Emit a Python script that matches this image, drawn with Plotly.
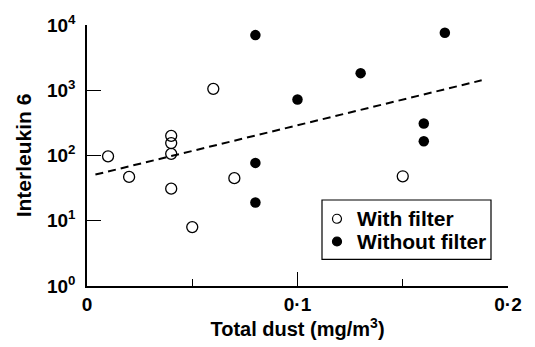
import plotly.graph_objects as go

# With filter (open circles)
with_x = [0.01, 0.02, 0.04, 0.04, 0.04, 0.04, 0.05, 0.06, 0.07, 0.15]
with_y = [97, 47, 200, 155, 106, 31, 8, 1050, 45, 48]

# Without filter (filled circles)
without_x = [0.08, 0.08, 0.08, 0.10, 0.13, 0.17, 0.16, 0.16]
without_y = [7000, 77, 19, 720, 1830, 7600, 310, 165]

# Regression line endpoints (as drawn)
line_x = [0.004, 0.1875]
line_y = [51, 1420]

x_tickvals = [0, 0.1, 0.2]
x_ticktext = ["0", "0·1", "0·2"]
y_tickvals = [1, 10, 100, 1000, 10000]
y_ticktext = ["10<sup>0</sup>", "10<sup>1</sup>", "10<sup>2</sup>", "10<sup>3</sup>", "10<sup>4</sup>"]

legend_labels = ["With filter", "Without filter"]

font_family = "Liberation Sans, Arial, sans-serif"

fig = go.Figure()
fig.add_trace(go.Scatter(
    x=line_x, y=line_y, mode="lines",
    line=dict(color="black", width=2, dash="8px,5px"),
    showlegend=False, hoverinfo="skip"))
fig.add_trace(go.Scatter(
    x=with_x, y=with_y, mode="markers", name=legend_labels[0], showlegend=False,
    marker=dict(symbol="circle-open", size=11, color="black", line=dict(width=1.3, color="black"))))
fig.add_trace(go.Scatter(
    x=without_x, y=without_y, mode="markers", name=legend_labels[1], showlegend=False,
    marker=dict(symbol="circle", size=10.5, color="black")))

fig.add_annotation(x=0.13, y=1830, yref="y", text="2", showarrow=False,
                   xanchor="left", xshift=11, font=dict(size=19, family=font_family, color="black", weight="bold"))

# Manual legend (paper coordinates): plot area 421 x 264 px
W, H = 421.0, 264.0
bx0, bx1 = (322 - 87) / W, (491 - 87) / W
by1, by0 = (288 - 201) / H, (288 - 261) / H
fig.add_shape(type="rect", xref="paper", yref="paper", x0=bx0, x1=bx1, y0=by0, y1=by1,
              line=dict(color="black", width=1.2), fillcolor="white", layer="above")
row_y = [(288 - 220) / H, (288 - 243) / H]
mx = (337 - 87) / W
tx = (355 - 87) / W
for i, lab in enumerate(legend_labels):
    filled = i == 1
    fig.add_shape(type="circle", xref="paper", yref="paper", xsizemode="pixel", ysizemode="pixel",
                  xanchor=mx, yanchor=row_y[i], x0=-4.5, x1=4.5, y0=-4.5, y1=4.5,
                  line=dict(color="black", width=1.2),
                  fillcolor="black" if filled else "white", layer="above")
    fig.add_annotation(xref="paper", yref="paper", x=tx, y=row_y[i], text=lab, showarrow=False,
                       xanchor="left", yanchor="middle",
                       font=dict(size=21, family=font_family, color="black", weight="bold"))

fig.update_layout(
    width=535, height=347,
    margin=dict(l=87, r=27, t=24, b=59),
    paper_bgcolor="white", plot_bgcolor="white",
    font=dict(family=font_family, color="black", size=19, weight="bold"),
    showlegend=False,
    xaxis=dict(range=[0, 0.2], tickvals=x_tickvals, ticktext=x_ticktext,
               ticks="inside", ticklen=14, tickwidth=1.3, tickcolor="black",
               minor=dict(tickvals=[0.05, 0.15], ticks="inside", ticklen=7, tickwidth=1.3, tickcolor="black"),
               showline=True, linecolor="black", linewidth=1.5, showgrid=False, zeroline=False,
               title=dict(text="Total dust (mg/m<sup>3</sup>)", font=dict(size=20), standoff=6),
               tickfont=dict(size=19)),
    yaxis=dict(type="log", range=[0, 4], tickvals=y_tickvals, ticktext=y_ticktext,
               ticks="inside", ticklen=14, tickwidth=1.3, tickcolor="black",
               showline=True, linecolor="black", linewidth=1.5, showgrid=False, zeroline=False,
               ticklabelstandoff=6,
               title=dict(text="Interleukin 6", font=dict(size=21), standoff=10),
               tickfont=dict(size=19)),
)

fig.write_html("out.html", config={"displayModeBar": False},
               post_script="document.body.style.margin='0';")
